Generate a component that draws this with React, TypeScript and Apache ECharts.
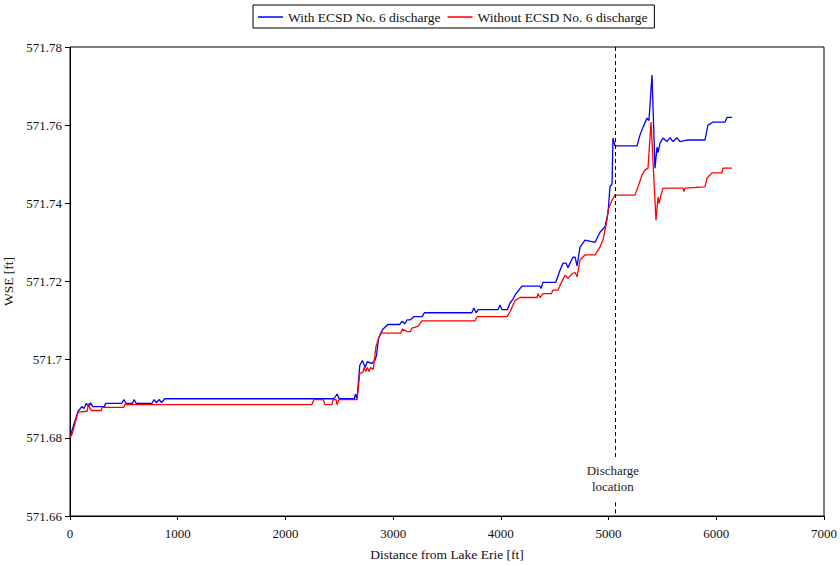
import React, { useEffect, useRef } from "react";
import * as echarts from "echarts";

const seriesNames = ["With ECSD No. 6 discharge", "Without ECSD No. 6 discharge"];

const withDist = [0, 20, 75, 110, 130, 150, 175, 190, 210, 320, 330, 480, 500, 520, 580, 595, 615, 760, 780, 800, 830, 850, 880, 2240, 2450, 2480, 2500, 2640, 2650, 2665, 2690, 2715, 2740, 2760, 2800, 2830, 2845, 2865, 2885, 2905, 2950, 3060, 3082, 3110, 3130, 3160, 3190, 3270, 3290, 3730, 3750, 3770, 3790, 3974, 3992, 4011, 4060, 4085, 4113, 4131, 4196, 4363, 4373, 4391, 4510, 4549, 4577, 4605, 4623, 4642, 4670, 4690, 4707, 4735, 4781, 4874, 4920, 4967, 4995, 5013, 5032, 5041, 5060, 5264, 5292, 5320, 5357, 5375, 5403, 5431, 5450, 5459, 5478, 5505, 5542, 5570, 5598, 5635, 5663, 5728, 5895, 5923, 5970, 6081, 6100, 6146];
const withWse = [571.68, 571.682, 571.6868, 571.688, 571.6875, 571.6888, 571.688, 571.689, 571.688, 571.688, 571.6888, 571.6888, 571.6898, 571.6888, 571.6888, 571.6898, 571.6888, 571.6888, 571.6898, 571.689, 571.6898, 571.689, 571.69, 571.69, 571.69, 571.6912, 571.69, 571.69, 571.6912, 571.69, 571.6985, 571.6998, 571.698, 571.6995, 571.699, 571.6998, 571.701, 571.7055, 571.7068, 571.7078, 571.709, 571.709, 571.7098, 571.7092, 571.7102, 571.7102, 571.711, 571.711, 571.712, 571.712, 571.7132, 571.712, 571.7128, 571.7128, 571.714, 571.7128, 571.7128, 571.7145, 571.7155, 571.7165, 571.7188, 571.7188, 571.7182, 571.7198, 571.7198, 571.7229, 571.7247, 571.7247, 571.7235, 571.7247, 571.7262, 571.7262, 571.724, 571.7288, 571.7306, 571.73, 571.7326, 571.734, 571.7375, 571.7442, 571.745, 571.7567, 571.7547, 571.7547, 571.7575, 571.7595, 571.7618, 571.7612, 571.7728, 571.749, 571.7544, 571.753, 571.7554, 571.7567, 571.7558, 571.7568, 571.7558, 571.7568, 571.7558, 571.7562, 571.7562, 571.76, 571.7608, 571.7608, 571.762, 571.762];

const withoutDist = [0, 20, 75, 160, 170, 185, 200, 290, 300, 500, 510, 2245, 2265, 2350, 2367, 2432, 2442, 2470, 2479, 2498, 2665, 2690, 2720, 2730, 2745, 2760, 2775, 2790, 2815, 2840, 2870, 2890, 3070, 3085, 3130, 3160, 3175, 3230, 3268, 3760, 3779, 4057, 4085, 4131, 4178, 4336, 4345, 4363, 4391, 4470, 4484, 4530, 4549, 4596, 4623, 4661, 4689, 4707, 4735, 4781, 4874, 4920, 4948, 4985, 4995, 5032, 5060, 5245, 5273, 5310, 5338, 5366, 5394, 5440, 5459, 5468, 5487, 5505, 5691, 5700, 5710, 5895, 5914, 5960, 6053, 6062, 6146];
const withoutWse = [571.68, 571.681, 571.6866, 571.6868, 571.6888, 571.6875, 571.687, 571.687, 571.6878, 571.6878, 571.6885, 571.6885, 571.6898, 571.6898, 571.6885, 571.6885, 571.6898, 571.6898, 571.6885, 571.6898, 571.6898, 571.6965, 571.6968, 571.698, 571.697, 571.698, 571.697, 571.698, 571.6975, 571.7033, 571.7058, 571.7068, 571.7068, 571.7078, 571.7072, 571.7072, 571.7081, 571.7085, 571.7099, 571.7099, 571.711, 571.711, 571.7122, 571.7151, 571.7159, 571.7159, 571.7169, 571.7159, 571.7169, 571.7169, 571.7178, 571.7178, 571.719, 571.7216, 571.7208, 571.722, 571.7223, 571.7212, 571.7255, 571.7268, 571.7268, 571.7288, 571.7306, 571.7357, 571.7383, 571.7408, 571.7421, 571.7421, 571.7442, 571.7472, 571.7485, 571.749, 571.7608, 571.7357, 571.7416, 571.74, 571.7421, 571.7439, 571.7439, 571.743, 571.7439, 571.7442, 571.7465, 571.7478, 571.7478, 571.749, 571.749];

const dischargeDist = 5060;
const dischargeLabel = "Discharge\nlocation";

const FONT = "'Liberation Serif', 'Times New Roman', serif";

export default function App() {
  const ref = useRef<HTMLDivElement>(null);
  useEffect(() => {
    if (!ref.current) return;
    const chart = echarts.init(ref.current, undefined, { renderer: "svg" });
    const zip = (xs: number[], ys: number[]) => xs.map((x, i) => [x, ys[i]]);
    chart.setOption({
      animation: false,
      textStyle: { fontFamily: FONT },
      legend: {
        left: 253,
        top: 5,
        orient: "horizontal",
        borderColor: "#000",
        borderWidth: 1,
        padding: [5, 7, 4, 5],
        icon: "rect",
        itemWidth: 25,
        itemHeight: 1.5,
        itemGap: 7,
        textStyle: { fontFamily: FONT, fontSize: 13.5, color: "#111" },
        data: seriesNames,
      },
      grid: {
        left: 70,
        right: 16,
        top: 47,
        bottom: 50,
        containLabel: false,
        outerBoundsMode: "none",
        show: true,
        borderColor: "#000",
        borderWidth: 1,
        backgroundColor: "transparent",
      },
      xAxis: {
        type: "value",
        min: 0,
        max: 7000,
        interval: 1000,
        name: "Distance from Lake Erie [ft]",
        nameLocation: "middle",
        nameGap: 31,
        nameTextStyle: { fontFamily: FONT, fontSize: 13.5, color: "#111" },
        axisLine: { lineStyle: { color: "#000", width: 1 } },
        axisTick: { show: true, length: 4, lineStyle: { color: "#000" } },
        axisLabel: {
          fontFamily: FONT,
          fontSize: 13,
          color: "#111",
          margin: 11,
          formatter: (v: number) => String(v),
        },
        splitLine: { show: false },
      },
      yAxis: {
        type: "value",
        min: 571.66,
        max: 571.78,
        interval: 0.02,
        name: "WSE [ft]",
        nameLocation: "middle",
        nameGap: 48,
        nameTextStyle: { fontFamily: FONT, fontSize: 13.5, color: "#111" },
        axisLine: { show: true, lineStyle: { color: "#000", width: 1 } },
        axisTick: { show: true, length: 5, lineStyle: { color: "#000" } },
        axisLabel: {
          fontFamily: FONT,
          fontSize: 13,
          color: "#111",
          margin: 8,
          formatter: (v: number) => String(parseFloat(v.toFixed(2))),
        },
        splitLine: { show: false },
      },
      series: [
        {
          name: seriesNames[0],
          type: "line",
          data: zip(withDist, withWse),
          symbol: "none",
          lineStyle: { color: "#0000ff", width: 1.3 },
          itemStyle: { color: "#0000ff" },
          markLine: {
            silent: true,
            symbol: "none",
            label: { show: false },
            lineStyle: { color: "#000", width: 1, type: [4, 3] },
            data: [
              [{ coord: [dischargeDist, 571.78] }, { coord: [dischargeDist, 571.6748] }],
              [{ coord: [dischargeDist, 571.6635] }, { coord: [dischargeDist, 571.66] }],
            ],
          },
          markPoint: {
            silent: true,
            symbol: "rect",
            symbolSize: 0,
            label: {
              show: true,
              position: "inside",
              formatter: dischargeLabel,
              fontFamily: FONT,
              fontSize: 13,
              lineHeight: 16,
              color: "#222",
              align: "center",
            },
            data: [{ coord: [dischargeDist - 20, 571.6697] }],
          },
        },
        {
          name: seriesNames[1],
          type: "line",
          data: zip(withoutDist, withoutWse),
          symbol: "none",
          lineStyle: { color: "#ff0000", width: 1.3 },
          itemStyle: { color: "#ff0000" },
        },
      ],
    });
    return () => chart.dispose();
  }, []);
  return (
    <div
      ref={ref}
      style={{ position: "absolute", left: 0, top: 0, width: 840, height: 566 }}
    />
  );
}
